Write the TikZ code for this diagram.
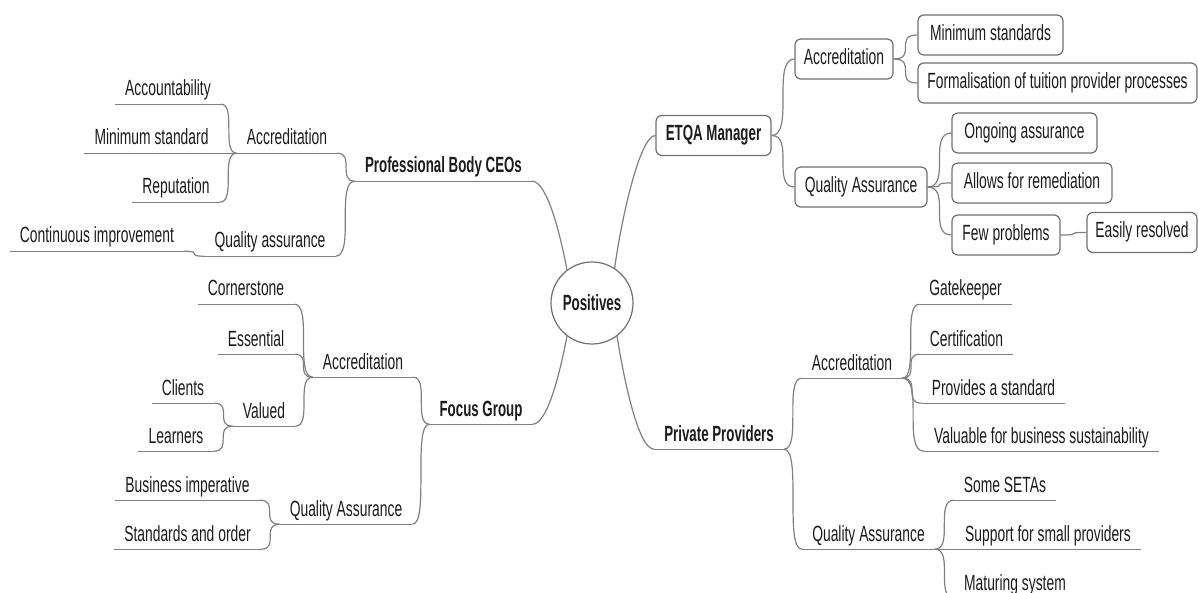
\documentclass[tikz,border=0pt]{standalone}
\usepackage{fontspec}
\setmainfont{Liberation Sans}[FakeStretch=0.63]
\newfontfamily\boldnarrow{Liberation Sans}[FakeStretch=0.605]
\usetikzlibrary{calc}
\definecolor{linegray}{RGB}{128,128,128}
\definecolor{boxgray}{RGB}{112,112,112}
\definecolor{inkgray}{RGB}{28,28,28}
\begin{document}
\begin{tikzpicture}[x=1pt,y=1pt,
  every node/.style={font=\fontsize{22}{26}\selectfont, text=inkgray},
  conn/.style={draw=linegray, line width=1.2pt},
  sbend/.style={to path={let \p1=($(\tikztotarget)-(\tikztostart)$),
      \p2=($(\tikztostart)-(\tikztotarget)$) in
      .. controls +(\x1,0) and +(\x2,0) .. (\tikztotarget)}},
  ulabel/.style={inner xsep=10pt, inner ysep=8pt, text depth=0pt, anchor=base},
  topic/.style={ulabel, font=\fontsize{22}{26}\boldnarrow\bfseries},
  tbox/.style={draw=boxgray, line width=1.2pt, rounded corners=6pt, fill=white,
      minimum height=40pt, text height=15pt, text depth=4pt, inner xsep=6pt},
  hub/.style={circle, draw=boxgray, line width=1.2pt, fill=white, inner sep=0pt,
      minimum size=82pt, font=\fontsize{22}{26}\boldnarrow\bfseries},
]
\useasboundingbox (0,0) rectangle (1198,-593);
\clip (0,0) rectangle (1198,-593);
\fill[white] (0,0) rectangle (1198,-593);

% ---------- centre ----------
\node[hub] (pos) at (592,-303) {Positives};

% ---------- Professional Body CEOs (left, top) ----------
\node[topic]  (pbc)     at (443.5,-173) {Professional Body CEOs};
\node[ulabel] (pbcacc)  at (287,-145)   {Accreditation};
\node[ulabel] (pbcqa)   at (270,-248)   {Quality assurance};
\node[ulabel] (acct)    at (168,-96)    {Accountability};
\node[ulabel] (minstd)  at (151.5,-145) {Minimum standard};
\node[ulabel] (reput)   at (176,-194)   {Reputation};
\node[ulabel] (contimp) at (97,-243)    {Continuous improvement};

% ---------- Focus Group (left, bottom) ----------
\node[topic]  (fg)       at (481,-416)   {Focus Group};
\node[ulabel] (fgacc)    at (363,-369)   {Accreditation};
\node[ulabel] (fgqa)     at (346,-516)   {Quality Assurance};
\node[ulabel] (corner)   at (246,-296)   {Cornerstone};
\node[ulabel] (essent)   at (256,-346)   {Essential};
\node[ulabel] (valued)   at (264,-418)   {Valued};
\node[ulabel] (clients)  at (183,-395)   {Clients};
\node[ulabel] (learners) at (176,-443)   {Learners};
\node[ulabel] (busimp)   at (187.5,-492) {Business imperative};
\node[ulabel] (stdord)   at (187.5,-541) {Standards and order};

% ---------- Private Providers (right, bottom) ----------
\node[topic]  (pp)       at (719,-441)    {Private Providers};
\node[ulabel] (ppacc)    at (852,-370)    {Accreditation};
\node[ulabel] (ppqa)     at (868.5,-541)  {Quality Assurance};
\node[ulabel] (gate)     at (965.5,-296)  {Gatekeeper};
\node[ulabel] (cert)     at (966.5,-346)  {Certification};
\node[ulabel] (provstd)  at (993.5,-395)  {Provides a standard};
\node[ulabel] (valbus)   at (1041.5,-443) {Valuable for business sustainability};
\node[ulabel] (setas)    at (1005,-492)   {Some SETAs};
\node[ulabel] (support)  at (1048,-541)   {Support for small providers};
\node[ulabel] (maturing) at (1015,-590)   {Maturing system};

% underlines
\foreach \n in {pbc,pbcacc,pbcqa,acct,minstd,reput,contimp,
                fg,fgacc,fgqa,corner,essent,valued,clients,learners,busimp,stdord,
                pp,ppacc,ppqa,gate,cert,provstd,valbus,setas,support,maturing}
  \draw[conn] (\n.south west) -- (\n.south east);

% left-hand branches: parent's left end to child's right end
\foreach \p/\c in {pbc/pbcacc, pbc/pbcqa, pbcacc/acct, pbcacc/minstd, pbcacc/reput,
                   pbcqa/contimp, fg/fgacc, fg/fgqa, fgacc/corner, fgacc/essent,
                   fgacc/valued, valued/clients, valued/learners, fgqa/busimp, fgqa/stdord}
  \draw[conn] (\p.south west) to[sbend] (\c.south east);

% right-hand underlined branches: parent's right end to child's left end
\foreach \p/\c in {pp/ppacc, pp/ppqa, ppacc/gate, ppacc/cert, ppacc/provstd, ppacc/valbus,
                   ppqa/setas, ppqa/support, ppqa/maturing}
  \draw[conn] (\p.south east) to[sbend] (\c.south west);

% ---------- ETQA Manager (right, top) ----------
\node[tbox, minimum width=115pt, font=\fontsize{22}{26}\boldnarrow\bfseries]
      (etqa)    at (713.5,-135.5) {ETQA Manager};
\node[tbox, minimum width=98pt]  (racc)    at (844,-59)      {Accreditation};
\node[tbox, minimum width=132pt] (rqa)     at (861,-187)     {Quality Assurance};
\node[tbox, minimum width=145pt] (minstds) at (990.5,-35)    {Minimum standards};
\node[tbox, minimum width=279pt] (formal)  at (1057.5,-83)   {Formalisation of tuition provider processes};
\node[tbox, minimum width=145pt] (ongoing) at (1024.5,-133)  {Ongoing assurance};
\node[tbox, minimum width=160pt] (allows)  at (1032,-183)    {Allows for remediation};
\node[tbox, minimum width=108pt] (few)     at (1006,-235)    {Few problems};
\node[tbox, minimum width=110pt] (easily)  at (1142,-232.5)  {Easily resolved};

\foreach \p/\c in {etqa/racc, etqa/rqa, racc/minstds, racc/formal,
                   rqa/ongoing, rqa/allows, rqa/few, few/easily}
  \draw[conn] (\p.east) to[sbend] (\c.west);

% ---------- links from the centre ----------
\draw[conn] (pos.127) .. controls +(-8,42)  and +(14,0)  .. (pbc.south east);
\draw[conn] (pos.233) .. controls +(-8,-42) and +(14,0)  .. (fg.south east);
\draw[conn] (pos.57)  .. controls +(6,45)   and +(-16,0) .. (etqa.west);
\draw[conn] (pos.307) .. controls +(8,-50)  and +(-15,0) .. (pp.south west);
\end{tikzpicture}
\end{document}
